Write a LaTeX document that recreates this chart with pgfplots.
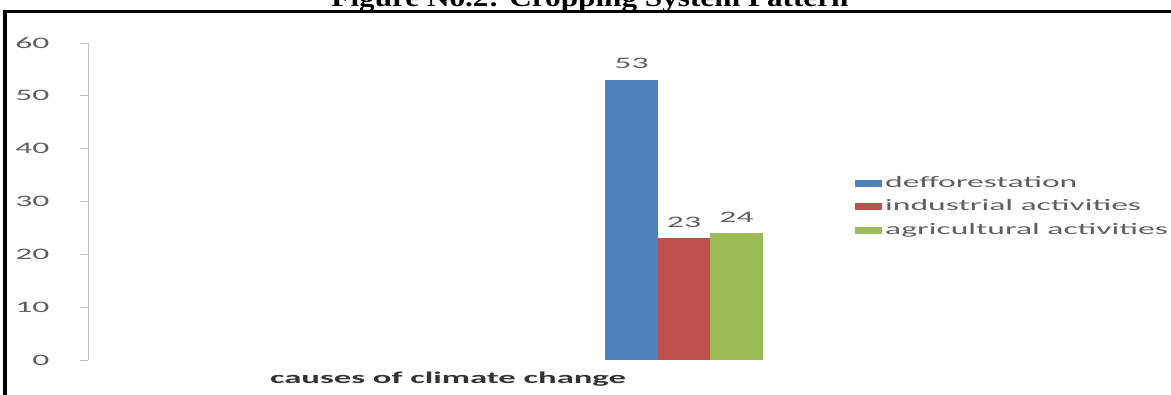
\documentclass[border=0pt]{standalone}
\usepackage{pgfplots}
\pgfplotsset{compat=1.18}
\usepackage{fontspec}
\setmainfont{Liberation Serif}
\newfontfamily\chartfont[FakeStretch=2.1]{Carlito}
\newfontfamily\titlefont[FakeStretch=1.2]{Liberation Serif}

\definecolor{barblue}{RGB}{79,129,189}
\definecolor{barred}{RGB}{192,80,77}
\definecolor{bargreen}{RGB}{155,187,89}
\definecolor{txtgray}{RGB}{95,95,95}

\begin{document}
\begin{tikzpicture}[x=1pt,y=1pt]
\useasboundingbox (0,0) rectangle (1171,394);
% heading, its upper part runs past the top edge
\node[anchor=base, font=\titlefont\bfseries\fontsize{26}{26}\selectfont, inner sep=0pt]
  at (590,387) {Figure No.2: Cropping System Pattern};
% frame lines
\draw[line width=3pt] (3,382.5) -- (1175,382.5);
\draw[line width=4pt] (5,-5) -- (5,384);

\begin{axis}[
  at={(88pt,34pt)}, anchor=south west,
  scale only axis, width=720pt, height=317pt,
  xmin=-1, xmax=1, ymin=0, ymax=60,
  axis y line*=left, axis x line*=bottom,
  x axis line style={draw=none},
  y axis line style={draw=gray!50, line width=0.8pt},
  ytick={0,10,...,60}, xtick={0}, xticklabels={causes of climate change},
  tick align=outside, major tick length=8pt,
  x tick style={draw=none},
  y tick style={draw=gray!50, line width=0.8pt},
  /pgf/number format/assume math mode=true,
  yticklabel style={font=\chartfont\fontsize{16}{16}\selectfont, text=txtgray, xshift=-27pt},
  xticklabel style={font=\chartfont\bfseries\fontsize{16.5}{16.5}\selectfont, text=black!80,
    anchor=north, inner sep=0pt, yshift=-4pt},
  ybar, bar width=52.5pt,
  nodes near coords,
  nodes near coords style={font=\chartfont\fontsize{16}{16}\selectfont, text=txtgray,
    inner sep=0pt, anchor=south, yshift=11pt},
  legend image code/.code={\fill[#1] (0pt,-3.5pt) rectangle (27pt,3.5pt);},
  legend style={at={(1.0653,0.58)}, anchor=north west, draw=none, fill=none,
    inner sep=0pt, column sep=3pt, row sep=9.5pt,
    nodes={inner sep=0pt, text height=11pt, text depth=3pt},
    font=\chartfont\fontsize{16}{16}\selectfont, text=txtgray},
  legend cell align=left,
]
\addplot[fill=barblue, draw=none, bar shift=183.5pt] coordinates {(0,53)};
\addplot[fill=barred, draw=none, bar shift=236pt] coordinates {(0,23)};
\addplot[fill=bargreen, draw=none, bar shift=288.5pt] coordinates {(0,24)};
\legend{defforestation, industrial activities, agricultural activities}
\end{axis}
\end{tikzpicture}
\end{document}
